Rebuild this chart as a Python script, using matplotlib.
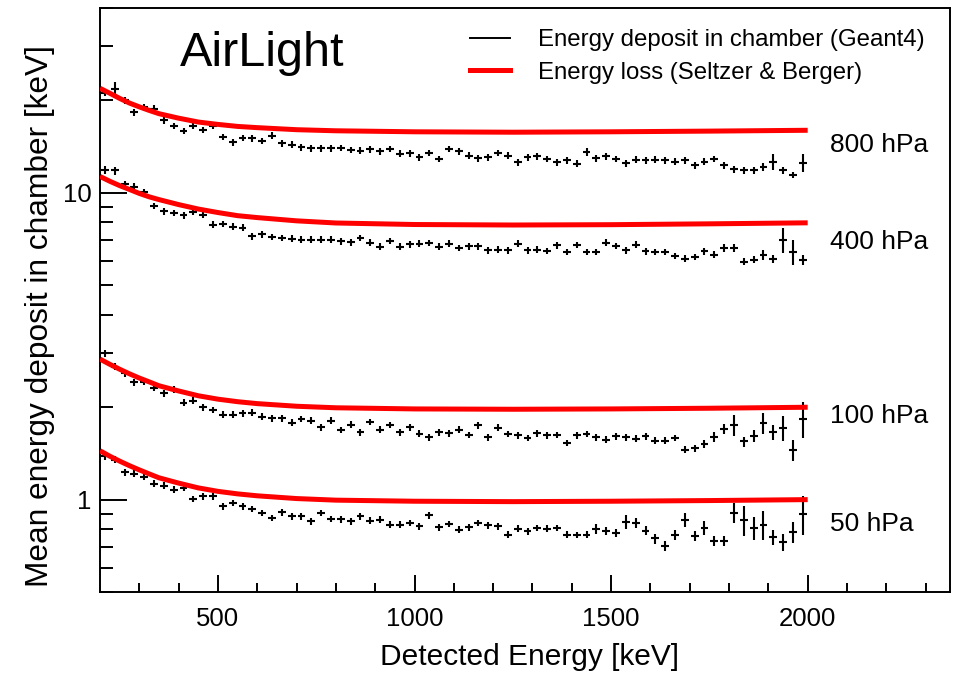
import numpy as np
import matplotlib
matplotlib.use('Agg')
import matplotlib.pyplot as plt
from matplotlib.lines import Line2D
from matplotlib.ticker import FixedLocator, FixedFormatter, NullFormatter

plt.rcParams['font.family'] = ['Liberation Sans', 'DejaVu Sans']

# ---------------- data ----------------
bin_centers = np.arange(212.5, 2000.0, 25.0)   # 25 keV bins, 200-2000 keV
bin_half_width = 10.0

dep_800 = [21.2, 21.8, 20.0, 18.3, 19.0, 18.8, 17.2, 16.5, 15.9, 16.5,
           16.0, 16.5, 15.2, 14.6, 15.1, 15.05, 14.75, 15.35, 14.5, 14.35,
           14.05, 13.95, 13.95, 13.95, 14.0, 13.8, 13.72, 13.85, 13.65, 13.9,
           13.4, 13.45, 13.05, 13.47, 12.9, 13.9, 13.65, 13.22, 12.96, 13.05,
           13.49, 13.22, 12.58, 13.05, 13.15, 12.9, 12.58, 12.74, 12.43, 13.55,
           12.96, 13.15, 12.9, 12.48, 12.83, 12.74, 12.83, 12.74, 12.64, 12.74,
           12.27, 12.64, 12.9, 12.27, 11.91, 11.82, 11.82, 12.12, 12.64, 11.82,
           11.44, 12.52]
dep_400 = [11.88, 11.82, 10.64, 10.48, 10.05, 9.05, 8.71, 8.60, 8.44, 8.68,
           8.49, 7.88, 7.91, 7.75, 7.69, 7.22, 7.33, 7.17, 7.13, 7.08,
           7.04, 7.04, 7.04, 7.04, 6.95, 6.89, 7.13, 6.87, 6.68, 6.97,
           6.68, 6.80, 6.83, 6.86, 6.68, 6.83, 6.61, 6.69, 6.69, 6.49,
           6.53, 6.49, 6.83, 6.49, 6.53, 6.46, 6.74, 6.41, 6.76, 6.41,
           6.41, 6.88, 6.71, 6.49, 6.78, 6.45, 6.41, 6.41, 6.22, 6.10,
           6.17, 6.45, 6.29, 6.61, 6.61, 5.97, 6.05, 6.27, 6.07, 7.03,
           6.43, 6.04]
dep_100 = [3.00, 2.71, 2.58, 2.41, 2.42, 2.31, 2.22, 2.28, 2.07, 2.10,
           2.00, 1.96, 1.89, 1.89, 1.91, 1.92, 1.865, 1.84, 1.84, 1.78,
           1.83, 1.81, 1.72, 1.81, 1.685, 1.757, 1.657, 1.793, 1.689, 1.753,
           1.657, 1.72, 1.639, 1.596, 1.657, 1.647, 1.689, 1.626, 1.744, 1.594,
           1.718, 1.635, 1.618, 1.587, 1.647, 1.618, 1.626, 1.529, 1.618, 1.635,
           1.594, 1.567, 1.606, 1.594, 1.579, 1.606, 1.555, 1.555, 1.587, 1.454,
           1.468, 1.521, 1.603, 1.704, 1.746, 1.547, 1.611, 1.776, 1.657, 1.710,
           1.448, 1.836]
dep_50 = [1.383, 1.349, 1.227, 1.215, 1.185, 1.127, 1.110, 1.078, 1.091, 1.005,
          1.025, 1.025, 0.951, 0.976, 0.951, 0.933, 0.905, 0.872, 0.909, 0.882,
          0.882, 0.850, 0.905, 0.866, 0.863, 0.850, 0.882, 0.855, 0.861, 0.829,
          0.829, 0.840, 0.819, 0.889, 0.813, 0.834, 0.799, 0.813, 0.840, 0.825,
          0.819, 0.769, 0.805, 0.789, 0.809, 0.805, 0.809, 0.769, 0.768, 0.769,
          0.805, 0.793, 0.779, 0.846, 0.840, 0.793, 0.747, 0.705, 0.769, 0.861,
          0.761, 0.808, 0.733, 0.733, 0.907, 0.858, 0.808, 0.829, 0.753, 0.725,
          0.784, 0.897]

# relative statistical errors
err_800 = [0.025, 0.050, 0.025, 0.025, 0.025, 0.025, 0.025, 0.025, 0.025, 0.025,
           0.025, 0.025, 0.025, 0.025, 0.025, 0.025, 0.025, 0.025, 0.025, 0.025,
           0.025, 0.025, 0.025, 0.025, 0.025, 0.025, 0.025, 0.025, 0.025, 0.025,
           0.025, 0.025, 0.025, 0.025, 0.025, 0.025, 0.025, 0.025, 0.025, 0.025,
           0.025, 0.025, 0.025, 0.025, 0.025, 0.025, 0.025, 0.025, 0.025, 0.030,
           0.025, 0.025, 0.025, 0.025, 0.025, 0.025, 0.025, 0.025, 0.025, 0.025,
           0.025, 0.025, 0.025, 0.025, 0.025, 0.025, 0.025, 0.030, 0.062, 0.025,
           0.025, 0.070]
err_400 = [0.030, 0.030, 0.025, 0.025, 0.025, 0.025, 0.025, 0.025, 0.025, 0.025,
           0.025, 0.025, 0.025, 0.025, 0.025, 0.025, 0.025, 0.025, 0.025, 0.025,
           0.025, 0.025, 0.025, 0.025, 0.025, 0.025, 0.025, 0.025, 0.025, 0.025,
           0.025, 0.025, 0.025, 0.025, 0.025, 0.025, 0.025, 0.025, 0.025, 0.025,
           0.025, 0.025, 0.025, 0.025, 0.025, 0.025, 0.025, 0.025, 0.025, 0.025,
           0.025, 0.025, 0.025, 0.025, 0.025, 0.025, 0.025, 0.025, 0.025, 0.025,
           0.025, 0.025, 0.025, 0.030, 0.030, 0.025, 0.025, 0.035, 0.030, 0.094,
           0.094, 0.040]
err_100 = [0.025, 0.025, 0.025, 0.025, 0.025, 0.025, 0.025, 0.025, 0.025, 0.025,
           0.025, 0.025, 0.025, 0.025, 0.025, 0.025, 0.025, 0.025, 0.025, 0.025,
           0.025, 0.025, 0.025, 0.025, 0.025, 0.025, 0.025, 0.025, 0.025, 0.025,
           0.025, 0.025, 0.025, 0.025, 0.025, 0.025, 0.025, 0.025, 0.025, 0.025,
           0.025, 0.025, 0.025, 0.025, 0.025, 0.025, 0.025, 0.025, 0.025, 0.025,
           0.025, 0.025, 0.025, 0.025, 0.025, 0.025, 0.025, 0.025, 0.025, 0.025,
           0.025, 0.030, 0.038, 0.038, 0.078, 0.038, 0.046, 0.078, 0.054, 0.094,
           0.078, 0.135]
err_50 = [0.025, 0.025, 0.025, 0.025, 0.025, 0.025, 0.025, 0.025, 0.025, 0.025,
          0.025, 0.025, 0.025, 0.025, 0.025, 0.025, 0.025, 0.025, 0.025, 0.025,
          0.025, 0.025, 0.025, 0.025, 0.025, 0.025, 0.025, 0.025, 0.025, 0.025,
          0.025, 0.025, 0.025, 0.025, 0.025, 0.025, 0.025, 0.025, 0.025, 0.025,
          0.025, 0.025, 0.025, 0.025, 0.025, 0.025, 0.025, 0.025, 0.025, 0.025,
          0.038, 0.030, 0.030, 0.054, 0.040, 0.035, 0.038, 0.038, 0.038, 0.054,
          0.038, 0.054, 0.038, 0.038, 0.078, 0.110, 0.086, 0.110, 0.054, 0.062,
          0.078, 0.144]

# Seltzer & Berger energy loss curves
energy_loss_E = [200, 225, 250, 275, 300, 325, 350, 400, 450, 500, 550, 600, 700,
                 800, 1000, 1250, 1500, 1750, 2000]
loss_800 = [21.9, 21.1, 20.3, 19.6, 19.05, 18.55, 18.1, 17.5, 17.0, 16.7, 16.45,
            16.3, 16.05, 15.92, 15.8, 15.75, 15.8, 15.88, 15.98]
loss_400 = [11.3, 10.9, 10.55, 10.25, 9.95, 9.7, 9.5, 9.15, 8.85, 8.62, 8.42,
            8.3, 8.1, 7.97, 7.88, 7.85, 7.87, 7.92, 7.98]
loss_100 = [2.87, 2.76, 2.66, 2.57, 2.49, 2.42, 2.35, 2.26, 2.18, 2.125, 2.085,
            2.055, 2.015, 1.992, 1.975, 1.97, 1.975, 1.985, 2.0]
loss_50 = [1.443, 1.385, 1.335, 1.29, 1.25, 1.213, 1.178, 1.132, 1.092, 1.064, 1.044,
           1.029, 1.008, 0.996, 0.988, 0.985, 0.988, 0.993, 1.0]

pressure_labels = ['800 hPa', '400 hPa', '100 hPa', '50 hPa']
label_y = [14.3, 6.9, 1.87, 0.835]

x_ticks = [500, 1000, 1500, 2000]
x_ticklabels = ['500', '1000', '1500', '2000']
y_ticks = [1, 10]
y_ticklabels = ['1', '10']

# ---------------- figure ----------------
fig = plt.figure(figsize=(9.65, 6.76), dpi=100)
W, H = 965, 676
ax = fig.add_axes([100 / W, 1 - 592 / H, 850 / W, 584 / H])

series = [(dep_800, err_800, loss_800), (dep_400, err_400, loss_400),
          (dep_100, err_100, loss_100), (dep_50, err_50, loss_50)]
for dep, err, loss in series:
    dep = np.asarray(dep)
    yerr = dep * np.asarray(err)
    ax.errorbar(bin_centers, dep, yerr=yerr, xerr=bin_half_width, fmt='none',
                ecolor='black', elinewidth=1.5, capsize=0, zorder=2)
    ax.plot(energy_loss_E, loss, color='#ff0000', lw=3.6, zorder=3,
            solid_capstyle='butt', solid_joinstyle='round')

ax.set_yscale('log')
ax.set_xlim(200, 2362)
ax.set_ylim(0.5, 40)

ax.xaxis.set_major_locator(FixedLocator(x_ticks))
ax.xaxis.set_major_formatter(FixedFormatter(x_ticklabels))
ax.xaxis.set_minor_locator(FixedLocator(np.arange(300, 2400, 100)))
ax.yaxis.set_major_locator(FixedLocator(y_ticks))
ax.yaxis.set_major_formatter(FixedFormatter(y_ticklabels))
minor_y = [0.5, 0.6, 0.7, 0.8, 0.9, 2, 3, 4, 5, 6, 7, 8, 9, 20, 30, 40]
ax.yaxis.set_minor_locator(FixedLocator(minor_y))
ax.yaxis.set_minor_formatter(NullFormatter())

ax.tick_params(axis='both', which='both', direction='in', top=False, right=False,
               width=1.4, labelsize=18.5)
ax.tick_params(axis='x', which='major', length=12.6, pad=11)
ax.tick_params(axis='x', which='minor', length=6.2)
ax.tick_params(axis='y', which='major', length=19.4, pad=6)
ax.tick_params(axis='y', which='minor', length=9.7)
for s in ax.spines.values():
    s.set_linewidth(1.4)

ax.set_xlabel('Detected Energy [keV]', fontsize=21.5)
ax.xaxis.set_label_coords(0.505, -0.088)
ax.set_ylabel('Mean energy deposit in chamber [keV]', fontsize=22.8, loc='top')
ax.yaxis.set_label_coords(-0.053, 0.937)

ax.text(80 / 850, 1 - 45 / 584, 'AirLight', transform=ax.transAxes,
        fontsize=35, ha='left', va='center')

for lab, yv in zip(pressure_labels, label_y):
    ax.text(2057, yv, lab, fontsize=19, ha='left', va='center')

handles = [Line2D([], [], color='black', lw=1.4),
           Line2D([], [], color='#ff0000', lw=3.6)]
ax.legend(handles, ['Energy deposit in chamber (Geant4)', 'Energy loss (Seltzer & Berger)'],
          loc='upper left', bbox_to_anchor=((470 - 100) / 850, 1 - 21 / 584),
          frameon=False, fontsize=17.3, handlelength=1.65, handletextpad=1.2,
          labelspacing=0.45, borderpad=0, borderaxespad=0)

fig.savefig('out.png', dpi=100)
